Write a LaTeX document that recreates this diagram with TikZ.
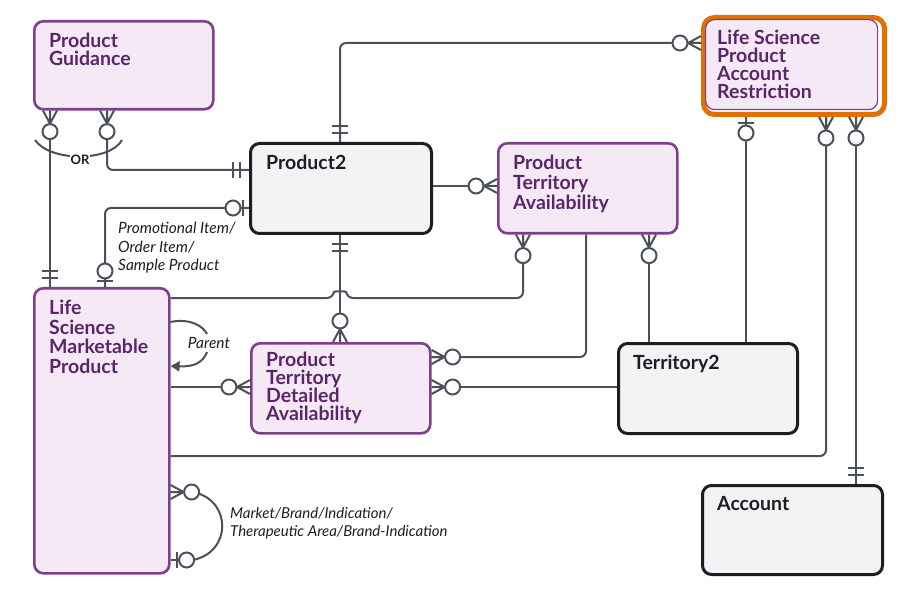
\documentclass[tikz,border=0pt]{standalone}
\usepackage{fontspec}
\setmainfont{Lato}
\usetikzlibrary{arrows.meta}
\definecolor{ln}{HTML}{4A515C}
\definecolor{pb}{HTML}{7E3F8C}
\definecolor{pf}{HTML}{F4E9F5}
\definecolor{pt}{HTML}{5A2669}
\definecolor{gf}{HTML}{F2F3F5}
\definecolor{gb}{HTML}{1E1E22}
\definecolor{og}{HTML}{E07000}
\tikzset{
  x=1pt,y=-1pt,
  ent/.style={rectangle,rounded corners=9,anchor=north west},
  pent/.style={ent,draw=pb,line width=2.6,fill=pf},
  gent/.style={ent,draw=gb,line width=3,fill=gf},
  ptitle/.style={anchor=north west,align=left,inner sep=0,text=pt,font=\fontsize{19.5}{18}\selectfont\bfseries},
  gtitle/.style={ptitle,text=gb},
  conn/.style={draw=ln,line width=2,rounded corners=6},
  lab/.style={font=\fontsize{15.5}{18.5}\selectfont\itshape,text=gb,align=left,anchor=north west,inner sep=0},
  crowzero/.pic={\draw[ln,line width=2] (0,-7)--(13,0)--(0,7) (0,0)--(13,0); \draw[ln,line width=2,fill=white] (21,0) circle (7.5);},
  zeroone/.pic={\draw[ln,line width=2] (0,0)--(8,0) (6,-8)--(6,8); \draw[ln,line width=2,fill=white] (16,0) circle (7.5);},
  dbar/.pic={\draw[ln,line width=2] (9,-8)--(9,8) (16,-8)--(16,8);},
}
\begin{document}
\begin{tikzpicture}
\useasboundingbox (0,0) rectangle (917,601);
% entities
\node[pent,minimum width=179,minimum height=88] (pg) at (33,20) {};
\node[ptitle] (pgt) at (49,33) {Product\\Guidance};
\node[gent,minimum width=181,minimum height=90] (p2) at (249,142) {};
\node[gtitle] (p2t) at (266,155) {Product2};
\node[pent,minimum width=179,minimum height=90] (pta) at (497,142) {};
\node[ptitle,font=\fontsize{19.5}{20}\selectfont\bfseries] (ptat) at (513,155) {Product\\Territory\\Availability};
\node[draw=og,line width=5,rounded corners=11,minimum width=181,minimum height=97,anchor=north west] (orng) at (701,15) {};
\node[pent,line width=1.2,minimum width=172,minimum height=90] (lspar) at (705,19) {};
\node[ptitle] (lspart) at (717,30) {Life Science\\Product\\Account\\Restriction};
\node[pent,minimum width=135,minimum height=285] (lsmp) at (33,287) {};
\node[ptitle,font=\fontsize{19.5}{19.5}\selectfont\bfseries] (lsmpt) at (49,300) {Life\\Science\\Marketable\\Product};
\node[pent,minimum width=179,minimum height=90] (ptda) at (250,342) {};
\node[ptitle] (ptdat) at (266,352) {Product\\Territory\\Detailed\\Availability};
\node[gent,minimum width=179,minimum height=90] (t2) at (617,342) {};
\node[gtitle] (t2t) at (633,355) {Territory2};
\node[gent,minimum width=180,minimum height=89] (acc) at (701,484) {};
\node[gtitle] (acct) at (717,496) {Account};
% connectors
\path[conn] (50,0 |- pg.south) -- (50,0 |- lsmp.north);
\path[conn] (107,0 |- pg.south) -- (107,170) -- (p2.west |- 0,170);
\path[conn] (p2.west |- 0,208) -- (105,208) -- (105,0 |- lsmp.north);
\path[conn] (340,0 |- p2.north) -- (340,43) -- (orng.west |- 0,43);
\path[conn] (340,0 |- p2.south) -- (340,0 |- ptda.north);
\path[conn] (p2.east |- 0,186) -- (pta.west |- 0,186);
\draw[ln,line width=2,rounded corners=6] (lsmp.east |- 0,298) -- (333,298) .. controls (334,291) and (346,291) .. (347,298) -- (523,298) -- (523,0 |- pta.south);
\path[conn] (586,0 |- pta.south) -- (586,357) -- (ptda.east |- 0,357);
\path[conn] (649,0 |- pta.south) -- (649,0 |- t2.north);
\path[conn] (t2.west |- 0,387) -- (ptda.east |- 0,387);
\path[conn] (lsmp.east |- 0,387) -- (ptda.west |- 0,387);
\path[conn] (746,0 |- orng.south) -- (746,0 |- t2.north);
\path[conn] (826,0 |- orng.south) -- (826,456) -- (lsmp.east |- 0,456);
\path[conn] (856,0 |- orng.south) -- (856,0 |- acc.north);
% self loops
\coordinate (m1) at (lsmp.east |- 0,492);
\coordinate (m2) at (lsmp.east |- 0,560);
\draw[ln,line width=2] (193,492) .. controls (232,500) and (232,552) .. (193,560);
\draw[ln,line width=2] (lsmp.east |- 0,322) .. controls (190,318) and (203,326) .. (207,334);
\draw[ln,line width=2,-{Triangle[length=9,width=10]}] (207,352) .. controls (203,362) and (195,367) .. (lsmp.east |- 0,366);
% OR arc
\draw[ln,line width=2] (35,140) .. controls (50,162) and (110,162) .. (122,140);
\node[fill=white,inner sep=1,font=\fontsize{13}{13}\selectfont\bfseries,text=gb] (or) at (80,160) {OR};
% markers
\pic[rotate=-90] at (50,0 |- pg.south) {crowzero};
\pic[rotate=-90] at (107,0 |- pg.south) {crowzero};
\pic[rotate=90] at (50,0 |- lsmp.north) {dbar};
\pic[rotate=180] at (p2.west |- 0,170) {dbar};
\pic[rotate=180] at (p2.west |- 0,208) {zeroone};
\pic[rotate=90] at (105,0 |- lsmp.north) {zeroone};
\pic[rotate=90] at (340,0 |- p2.north) {dbar};
\pic[rotate=180] at (orng.west |- 0,43) {crowzero};
\pic[rotate=-90] at (340,0 |- p2.south) {dbar};
\pic[rotate=90] at (340,0 |- ptda.north) {crowzero};
\pic[rotate=180] at (pta.west |- 0,186) {crowzero};
\pic[rotate=-90] at (523,0 |- pta.south) {crowzero};
\pic at (ptda.east |- 0,357) {crowzero};
\pic[rotate=-90] at (649,0 |- pta.south) {crowzero};
\pic at (ptda.east |- 0,387) {crowzero};
\pic[rotate=180] at (ptda.west |- 0,387) {crowzero};
\pic[rotate=-90] at (746,0 |- orng.south) {zeroone};
\pic[rotate=-90] at (826,0 |- orng.south) {crowzero};
\pic[rotate=-90] at (856,0 |- orng.south) {crowzero};
\pic[rotate=90] at (856,0 |- acc.north) {dbar};
\pic at (m1) {crowzero};
\pic at (m2) {zeroone};
% labels
\node[lab] (l1) at (118,222) {Promotional Item/\\Order Item/\\Sample Product};
\node[lab,anchor=center] (l2) at (209,343) {Parent};
\node[lab,font=\fontsize{15}{18}\selectfont\itshape] (l3) at (230,507) {Market/Brand/Indication/\\Therapeutic Area/Brand-Indication};
\end{tikzpicture}
\end{document}
